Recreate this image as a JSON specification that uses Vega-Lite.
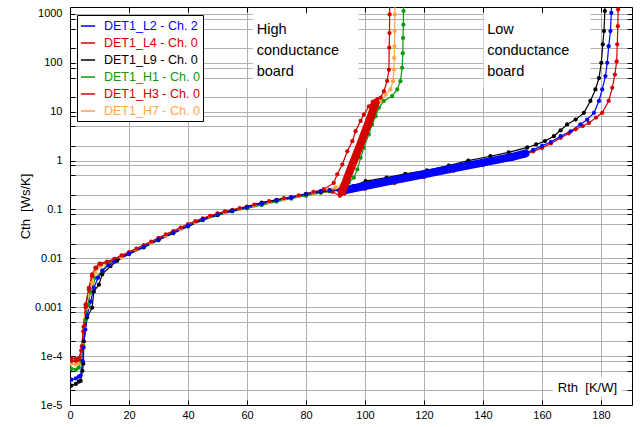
{
"$schema": "https://vega.github.io/schema/vega-lite/v6.json",
"width": 562, "height": 398,
"autosize": "none",
"padding": {"left": 70, "top": 7, "right": 8, "bottom": 22},
"background": "white",
"config": {
  "font": "Liberation Sans",
  "view": {"stroke": "#000000", "strokeWidth": 1},
  "axis": {"labelFont": "Liberation Sans", "labelFontSize": 11, "labelColor": "#000000", "domainColor": "#000000", "tickColor": "#000000", "gridColor": "#b0b0b0", "gridWidth": 1, "labelFlush": false, "labelOverlap": false, "labelBound": false}
},
"datasets": {
"boxes": [
  {"r1": 62.0, "r2": 97.8, "c1": 31, "c2": 1000},
  {"r1": 140.2, "r2": 176.4, "c1": 31, "c2": 1000}
],
"notes": [
  {"r": 63.3, "c": 381, "t": "High\nconductance\nboard"},
  {"r": 141.4, "c": 381, "t": "Low\nconductance\nboard"}
],
"xlab": [
  {"r1": 163.7, "r2": 187.1, "c1": 1.5e-5, "c2": 3.7e-5, "r": 175.4, "c": 1.82e-5, "t": "Rth\u00a0 [K/W]"}
],
"bands": [
  {"s": "DET1_L2 - Ch. 2", "r": 92, "c": 0.240},
  {"s": "DET1_L2 - Ch. 2", "r": 100, "c": 0.302},
  {"s": "DET1_L2 - Ch. 2", "r": 110, "c": 0.398},
  {"s": "DET1_L2 - Ch. 2", "r": 120, "c": 0.525},
  {"s": "DET1_L2 - Ch. 2", "r": 130, "c": 0.692},
  {"s": "DET1_L2 - Ch. 2", "r": 140, "c": 0.912},
  {"s": "DET1_L2 - Ch. 2", "r": 150, "c": 1.20},
  {"s": "DET1_L2 - Ch. 2", "r": 154.4, "c": 1.41},
  {"s": "DET1_H3 - Ch. 0", "r": 92.2, "c": 0.229},
  {"s": "DET1_H3 - Ch. 0", "r": 95, "c": 0.645},
  {"s": "DET1_H3 - Ch. 0", "r": 98, "c": 1.86},
  {"s": "DET1_H3 - Ch. 0", "r": 101, "c": 5.6},
  {"s": "DET1_H3 - Ch. 0", "r": 103.6, "c": 15.1}
],
"curves": [
  {"s": "DET1_H7 - Ch. 0", "r": 0.5, "c": 7.0e-5},
  {"s": "DET1_H7 - Ch. 0", "r": 2.0, "c": 6.8e-5},
  {"s": "DET1_H7 - Ch. 0", "r": 3.0, "c": 7.2e-5},
  {"s": "DET1_H7 - Ch. 0", "r": 3.8, "c": 8.5e-5},
  {"s": "DET1_H7 - Ch. 0", "r": 4.5, "c": 1.7e-4},
  {"s": "DET1_H7 - Ch. 0", "r": 4.9, "c": 3.8e-4},
  {"s": "DET1_H7 - Ch. 0", "r": 5.3, "c": 6.5e-4},
  {"s": "DET1_H7 - Ch. 0", "r": 5.8, "c": 9.8e-4},
  {"s": "DET1_H7 - Ch. 0", "r": 6.7, "c": 1.8e-3},
  {"s": "DET1_H7 - Ch. 0", "r": 7.5, "c": 3.2e-3},
  {"s": "DET1_H7 - Ch. 0", "r": 8.6, "c": 5.1e-3},
  {"s": "DET1_H7 - Ch. 0", "r": 10.3, "c": 6.9e-3},
  {"s": "DET1_H7 - Ch. 0", "r": 12.6, "c": 7.6e-3},
  {"s": "DET1_H7 - Ch. 0", "r": 15, "c": 0.0089},
  {"s": "DET1_H7 - Ch. 0", "r": 17.5, "c": 0.0104},
  {"s": "DET1_H7 - Ch. 0", "r": 20, "c": 0.0126},
  {"s": "DET1_H7 - Ch. 0", "r": 22.5, "c": 0.0148},
  {"s": "DET1_H7 - Ch. 0", "r": 25, "c": 0.0174},
  {"s": "DET1_H7 - Ch. 0", "r": 27.5, "c": 0.0204},
  {"s": "DET1_H7 - Ch. 0", "r": 30, "c": 0.0245},
  {"s": "DET1_H7 - Ch. 0", "r": 32.5, "c": 0.0288},
  {"s": "DET1_H7 - Ch. 0", "r": 35, "c": 0.0339},
  {"s": "DET1_H7 - Ch. 0", "r": 37.5, "c": 0.0398},
  {"s": "DET1_H7 - Ch. 0", "r": 40, "c": 0.0468},
  {"s": "DET1_H7 - Ch. 0", "r": 42.5, "c": 0.0537},
  {"s": "DET1_H7 - Ch. 0", "r": 45, "c": 0.0631},
  {"s": "DET1_H7 - Ch. 0", "r": 47.5, "c": 0.0708},
  {"s": "DET1_H7 - Ch. 0", "r": 50, "c": 0.0794},
  {"s": "DET1_H7 - Ch. 0", "r": 52.5, "c": 0.0871},
  {"s": "DET1_H7 - Ch. 0", "r": 55, "c": 0.0955},
  {"s": "DET1_H7 - Ch. 0", "r": 57.5, "c": 0.102},
  {"s": "DET1_H7 - Ch. 0", "r": 60, "c": 0.112},
  {"s": "DET1_H7 - Ch. 0", "r": 62.5, "c": 0.120},
  {"s": "DET1_H7 - Ch. 0", "r": 65, "c": 0.132},
  {"s": "DET1_H7 - Ch. 0", "r": 67.5, "c": 0.141},
  {"s": "DET1_H7 - Ch. 0", "r": 70, "c": 0.155},
  {"s": "DET1_H7 - Ch. 0", "r": 72.5, "c": 0.162},
  {"s": "DET1_H7 - Ch. 0", "r": 75, "c": 0.178},
  {"s": "DET1_H7 - Ch. 0", "r": 77.5, "c": 0.186},
  {"s": "DET1_H7 - Ch. 0", "r": 80, "c": 0.209},
  {"s": "DET1_H7 - Ch. 0", "r": 82.5, "c": 0.219},
  {"s": "DET1_H7 - Ch. 0", "r": 85, "c": 0.240},
  {"s": "DET1_H7 - Ch. 0", "r": 87.5, "c": 0.257},
  {"s": "DET1_H7 - Ch. 0", "r": 90, "c": 0.28},
  {"s": "DET1_H7 - Ch. 0", "r": 92, "c": 0.316},
  {"s": "DET1_H7 - Ch. 0", "r": 94, "c": 0.50},
  {"s": "DET1_H7 - Ch. 0", "r": 96, "c": 0.89},
  {"s": "DET1_H7 - Ch. 0", "r": 98, "c": 1.9},
  {"s": "DET1_H7 - Ch. 0", "r": 100, "c": 3.8},
  {"s": "DET1_H7 - Ch. 0", "r": 102, "c": 7.2},
  {"s": "DET1_H7 - Ch. 0", "r": 103.8, "c": 12},
  {"s": "DET1_H7 - Ch. 0", "r": 105.5, "c": 16.6},
  {"s": "DET1_H7 - Ch. 0", "r": 107, "c": 22.6},
  {"s": "DET1_H7 - Ch. 0", "r": 108.6, "c": 28.6},
  {"s": "DET1_H7 - Ch. 0", "r": 109.5, "c": 42.3},
  {"s": "DET1_H7 - Ch. 0", "r": 109.8, "c": 73},
  {"s": "DET1_H7 - Ch. 0", "r": 109.9, "c": 126},
  {"s": "DET1_H7 - Ch. 0", "r": 110.0, "c": 219},
  {"s": "DET1_H7 - Ch. 0", "r": 110.05, "c": 447},
  {"s": "DET1_H7 - Ch. 0", "r": 110.1, "c": 977},
  {"s": "DET1_H7 - Ch. 0", "r": 110.15, "c": 2000},

  {"s": "DET1_H1 - Ch. 0", "r": 0.5, "c": 5.5e-5},
  {"s": "DET1_H1 - Ch. 0", "r": 2.0, "c": 5.3e-5},
  {"s": "DET1_H1 - Ch. 0", "r": 3.0, "c": 5.8e-5},
  {"s": "DET1_H1 - Ch. 0", "r": 3.8, "c": 8.0e-5},
  {"s": "DET1_H1 - Ch. 0", "r": 4.5, "c": 1.6e-4},
  {"s": "DET1_H1 - Ch. 0", "r": 5.3, "c": 5.5e-4},
  {"s": "DET1_H1 - Ch. 0", "r": 6.0, "c": 1.1e-3},
  {"s": "DET1_H1 - Ch. 0", "r": 7.0, "c": 2.0e-3},
  {"s": "DET1_H1 - Ch. 0", "r": 8.6, "c": 4.0e-3},
  {"s": "DET1_H1 - Ch. 0", "r": 10.9, "c": 5.6e-3},
  {"s": "DET1_H1 - Ch. 0", "r": 13, "c": 7.8e-3},
  {"s": "DET1_H1 - Ch. 0", "r": 15.4, "c": 0.0098},
  {"s": "DET1_H1 - Ch. 0", "r": 20, "c": 0.0123},
  {"s": "DET1_H1 - Ch. 0", "r": 25, "c": 0.0166},
  {"s": "DET1_H1 - Ch. 0", "r": 30, "c": 0.0234},
  {"s": "DET1_H1 - Ch. 0", "r": 35, "c": 0.0324},
  {"s": "DET1_H1 - Ch. 0", "r": 40, "c": 0.0447},
  {"s": "DET1_H1 - Ch. 0", "r": 45, "c": 0.0603},
  {"s": "DET1_H1 - Ch. 0", "r": 50, "c": 0.0759},
  {"s": "DET1_H1 - Ch. 0", "r": 55, "c": 0.0912},
  {"s": "DET1_H1 - Ch. 0", "r": 60, "c": 0.105},
  {"s": "DET1_H1 - Ch. 0", "r": 65, "c": 0.123},
  {"s": "DET1_H1 - Ch. 0", "r": 70, "c": 0.145},
  {"s": "DET1_H1 - Ch. 0", "r": 75, "c": 0.166},
  {"s": "DET1_H1 - Ch. 0", "r": 80, "c": 0.191},
  {"s": "DET1_H1 - Ch. 0", "r": 85, "c": 0.219},
  {"s": "DET1_H1 - Ch. 0", "r": 88, "c": 0.234},
  {"s": "DET1_H1 - Ch. 0", "r": 91.7, "c": 0.257},
  {"s": "DET1_H1 - Ch. 0", "r": 94.5, "c": 0.355},
  {"s": "DET1_H1 - Ch. 0", "r": 96.2, "c": 0.447},
  {"s": "DET1_H1 - Ch. 0", "r": 97.4, "c": 0.661},
  {"s": "DET1_H1 - Ch. 0", "r": 98.5, "c": 1.14},
  {"s": "DET1_H1 - Ch. 0", "r": 99.6, "c": 1.82},
  {"s": "DET1_H1 - Ch. 0", "r": 101.3, "c": 3.44},
  {"s": "DET1_H1 - Ch. 0", "r": 102.4, "c": 5.5},
  {"s": "DET1_H1 - Ch. 0", "r": 103.6, "c": 8.1},
  {"s": "DET1_H1 - Ch. 0", "r": 104.7, "c": 12.0},
  {"s": "DET1_H1 - Ch. 0", "r": 106.4, "c": 16.6},
  {"s": "DET1_H1 - Ch. 0", "r": 109.2, "c": 20.9},
  {"s": "DET1_H1 - Ch. 0", "r": 110.9, "c": 28.6},
  {"s": "DET1_H1 - Ch. 0", "r": 112.0, "c": 42.3},
  {"s": "DET1_H1 - Ch. 0", "r": 112.6, "c": 79},
  {"s": "DET1_H1 - Ch. 0", "r": 112.8, "c": 158},
  {"s": "DET1_H1 - Ch. 0", "r": 112.9, "c": 324},
  {"s": "DET1_H1 - Ch. 0", "r": 113.0, "c": 603},
  {"s": "DET1_H1 - Ch. 0", "r": 113.05, "c": 1150},
  {"s": "DET1_H1 - Ch. 0", "r": 113.1, "c": 2000},

  {"s": "DET1_H3 - Ch. 0", "r": 0.5, "c": 8.0e-5},
  {"s": "DET1_H3 - Ch. 0", "r": 2.0, "c": 8.0e-5},
  {"s": "DET1_H3 - Ch. 0", "r": 3.0, "c": 8.5e-5},
  {"s": "DET1_H3 - Ch. 0", "r": 3.8, "c": 1.3e-4},
  {"s": "DET1_H3 - Ch. 0", "r": 4.5, "c": 3.2e-4},
  {"s": "DET1_H3 - Ch. 0", "r": 5.3, "c": 1.15e-3},
  {"s": "DET1_H3 - Ch. 0", "r": 6.4, "c": 2.5e-3},
  {"s": "DET1_H3 - Ch. 0", "r": 7.5, "c": 4.7e-3},
  {"s": "DET1_H3 - Ch. 0", "r": 8.6, "c": 6.5e-3},
  {"s": "DET1_H3 - Ch. 0", "r": 10, "c": 7.8e-3},
  {"s": "DET1_H3 - Ch. 0", "r": 12.5, "c": 8.6e-3},
  {"s": "DET1_H3 - Ch. 0", "r": 15, "c": 0.0098},
  {"s": "DET1_H3 - Ch. 0", "r": 17.5, "c": 0.0115},
  {"s": "DET1_H3 - Ch. 0", "r": 22.5, "c": 0.0158},
  {"s": "DET1_H3 - Ch. 0", "r": 27.5, "c": 0.0219},
  {"s": "DET1_H3 - Ch. 0", "r": 32.5, "c": 0.0309},
  {"s": "DET1_H3 - Ch. 0", "r": 37.5, "c": 0.0427},
  {"s": "DET1_H3 - Ch. 0", "r": 42.5, "c": 0.0575},
  {"s": "DET1_H3 - Ch. 0", "r": 47.5, "c": 0.0741},
  {"s": "DET1_H3 - Ch. 0", "r": 52.5, "c": 0.0912},
  {"s": "DET1_H3 - Ch. 0", "r": 57.5, "c": 0.107},
  {"s": "DET1_H3 - Ch. 0", "r": 62.5, "c": 0.126},
  {"s": "DET1_H3 - Ch. 0", "r": 67.5, "c": 0.148},
  {"s": "DET1_H3 - Ch. 0", "r": 72.5, "c": 0.170},
  {"s": "DET1_H3 - Ch. 0", "r": 77.5, "c": 0.195},
  {"s": "DET1_H3 - Ch. 0", "r": 82.5, "c": 0.229},
  {"s": "DET1_H3 - Ch. 0", "r": 86, "c": 0.26},
  {"s": "DET1_H3 - Ch. 0", "r": 89.4, "c": 0.35},
  {"s": "DET1_H3 - Ch. 0", "r": 90.6, "c": 0.525},
  {"s": "DET1_H3 - Ch. 0", "r": 92.3, "c": 0.83},
  {"s": "DET1_H3 - Ch. 0", "r": 94, "c": 1.55},
  {"s": "DET1_H3 - Ch. 0", "r": 95.7, "c": 2.5},
  {"s": "DET1_H3 - Ch. 0", "r": 96.8, "c": 4.0},
  {"s": "DET1_H3 - Ch. 0", "r": 98.5, "c": 6.5},
  {"s": "DET1_H3 - Ch. 0", "r": 99.6, "c": 8.7},
  {"s": "DET1_H3 - Ch. 0", "r": 101.3, "c": 12.9},
  {"s": "DET1_H3 - Ch. 0", "r": 102.6, "c": 16.0},
  {"s": "DET1_H3 - Ch. 0", "r": 104.2, "c": 18.2},
  {"s": "DET1_H3 - Ch. 0", "r": 105.3, "c": 19.5},
  {"s": "DET1_H3 - Ch. 0", "r": 106.4, "c": 26.3},
  {"s": "DET1_H3 - Ch. 0", "r": 107.5, "c": 42.7},
  {"s": "DET1_H3 - Ch. 0", "r": 108.1, "c": 72},
  {"s": "DET1_H3 - Ch. 0", "r": 108.2, "c": 204},
  {"s": "DET1_H3 - Ch. 0", "r": 108.3, "c": 407},
  {"s": "DET1_H3 - Ch. 0", "r": 108.35, "c": 977},
  {"s": "DET1_H3 - Ch. 0", "r": 108.4, "c": 2000},

  {"s": "DET1_L4 - Ch. 0", "r": 0.5, "c": 9.0e-5},
  {"s": "DET1_L4 - Ch. 0", "r": 2.0, "c": 8.8e-5},
  {"s": "DET1_L4 - Ch. 0", "r": 3.2, "c": 9.2e-5},
  {"s": "DET1_L4 - Ch. 0", "r": 4.0, "c": 1.6e-4},
  {"s": "DET1_L4 - Ch. 0", "r": 4.6, "c": 4.0e-4},
  {"s": "DET1_L4 - Ch. 0", "r": 5.3, "c": 1.0e-3},
  {"s": "DET1_L4 - Ch. 0", "r": 6.4, "c": 2.3e-3},
  {"s": "DET1_L4 - Ch. 0", "r": 7.5, "c": 4.3e-3},
  {"s": "DET1_L4 - Ch. 0", "r": 8.8, "c": 6.3e-3},
  {"s": "DET1_L4 - Ch. 0", "r": 10.5, "c": 7.7e-3},
  {"s": "DET1_L4 - Ch. 0", "r": 12.5, "c": 8.3e-3},
  {"s": "DET1_L4 - Ch. 0", "r": 15, "c": 0.0093},
  {"s": "DET1_L4 - Ch. 0", "r": 20, "c": 0.0135},
  {"s": "DET1_L4 - Ch. 0", "r": 25, "c": 0.0186},
  {"s": "DET1_L4 - Ch. 0", "r": 30, "c": 0.0263},
  {"s": "DET1_L4 - Ch. 0", "r": 35, "c": 0.0363},
  {"s": "DET1_L4 - Ch. 0", "r": 40, "c": 0.0501},
  {"s": "DET1_L4 - Ch. 0", "r": 45, "c": 0.0661},
  {"s": "DET1_L4 - Ch. 0", "r": 50, "c": 0.0832},
  {"s": "DET1_L4 - Ch. 0", "r": 55, "c": 0.0977},
  {"s": "DET1_L4 - Ch. 0", "r": 60, "c": 0.115},
  {"s": "DET1_L4 - Ch. 0", "r": 65, "c": 0.135},
  {"s": "DET1_L4 - Ch. 0", "r": 70, "c": 0.158},
  {"s": "DET1_L4 - Ch. 0", "r": 75, "c": 0.180},
  {"s": "DET1_L4 - Ch. 0", "r": 80, "c": 0.209},
  {"s": "DET1_L4 - Ch. 0", "r": 85, "c": 0.234},
  {"s": "DET1_L4 - Ch. 0", "r": 89, "c": 0.23},
  {"s": "DET1_L4 - Ch. 0", "r": 91.5, "c": 0.19},
  {"s": "DET1_L4 - Ch. 0", "r": 93, "c": 0.21},
  {"s": "DET1_L4 - Ch. 0", "r": 100, "c": 0.263},
  {"s": "DET1_L4 - Ch. 0", "r": 110, "c": 0.347},
  {"s": "DET1_L4 - Ch. 0", "r": 120, "c": 0.457},
  {"s": "DET1_L4 - Ch. 0", "r": 130, "c": 0.617},
  {"s": "DET1_L4 - Ch. 0", "r": 140, "c": 0.813},
  {"s": "DET1_L4 - Ch. 0", "r": 150, "c": 1.10},
  {"s": "DET1_L4 - Ch. 0", "r": 154, "c": 1.26},
  {"s": "DET1_L4 - Ch. 0", "r": 157, "c": 1.55},
  {"s": "DET1_L4 - Ch. 0", "r": 160, "c": 1.82},
  {"s": "DET1_L4 - Ch. 0", "r": 163, "c": 2.24},
  {"s": "DET1_L4 - Ch. 0", "r": 166.3, "c": 2.92},
  {"s": "DET1_L4 - Ch. 0", "r": 169, "c": 3.6},
  {"s": "DET1_L4 - Ch. 0", "r": 171.4, "c": 4.37},
  {"s": "DET1_L4 - Ch. 0", "r": 173.8, "c": 5.1},
  {"s": "DET1_L4 - Ch. 0", "r": 175.9, "c": 5.9},
  {"s": "DET1_L4 - Ch. 0", "r": 178.3, "c": 7.6},
  {"s": "DET1_L4 - Ch. 0", "r": 180.4, "c": 9.5},
  {"s": "DET1_L4 - Ch. 0", "r": 182.6, "c": 16.6},
  {"s": "DET1_L4 - Ch. 0", "r": 183.8, "c": 30.9},
  {"s": "DET1_L4 - Ch. 0", "r": 184.7, "c": 57.5},
  {"s": "DET1_L4 - Ch. 0", "r": 185.3, "c": 107},
  {"s": "DET1_L4 - Ch. 0", "r": 185.5, "c": 240},
  {"s": "DET1_L4 - Ch. 0", "r": 185.7, "c": 562},
  {"s": "DET1_L4 - Ch. 0", "r": 185.8, "c": 1230},
  {"s": "DET1_L4 - Ch. 0", "r": 185.85, "c": 2000},

  {"s": "DET1_L9 - Ch. 0", "r": 0.5, "c": 2.5e-5},
  {"s": "DET1_L9 - Ch. 0", "r": 2.0, "c": 2.7e-5},
  {"s": "DET1_L9 - Ch. 0", "r": 3.0, "c": 3.0e-5},
  {"s": "DET1_L9 - Ch. 0", "r": 3.6, "c": 3.1e-5},
  {"s": "DET1_L9 - Ch. 0", "r": 4.2, "c": 5.0e-5},
  {"s": "DET1_L9 - Ch. 0", "r": 4.5, "c": 7.0e-5},
  {"s": "DET1_L9 - Ch. 0", "r": 4.7, "c": 2.0e-4},
  {"s": "DET1_L9 - Ch. 0", "r": 5.8, "c": 6.2e-4},
  {"s": "DET1_L9 - Ch. 0", "r": 7.5, "c": 9.8e-4},
  {"s": "DET1_L9 - Ch. 0", "r": 8.1, "c": 2.1e-3},
  {"s": "DET1_L9 - Ch. 0", "r": 9.8, "c": 2.9e-3},
  {"s": "DET1_L9 - Ch. 0", "r": 10.9, "c": 4.7e-3},
  {"s": "DET1_L9 - Ch. 0", "r": 13.7, "c": 6.9e-3},
  {"s": "DET1_L9 - Ch. 0", "r": 16, "c": 0.0089},
  {"s": "DET1_L9 - Ch. 0", "r": 20, "c": 0.0123},
  {"s": "DET1_L9 - Ch. 0", "r": 25, "c": 0.0170},
  {"s": "DET1_L9 - Ch. 0", "r": 30, "c": 0.0240},
  {"s": "DET1_L9 - Ch. 0", "r": 35, "c": 0.0331},
  {"s": "DET1_L9 - Ch. 0", "r": 40, "c": 0.0457},
  {"s": "DET1_L9 - Ch. 0", "r": 45, "c": 0.0617},
  {"s": "DET1_L9 - Ch. 0", "r": 50, "c": 0.0776},
  {"s": "DET1_L9 - Ch. 0", "r": 55, "c": 0.0933},
  {"s": "DET1_L9 - Ch. 0", "r": 60, "c": 0.112},
  {"s": "DET1_L9 - Ch. 0", "r": 65, "c": 0.138},
  {"s": "DET1_L9 - Ch. 0", "r": 70, "c": 0.155},
  {"s": "DET1_L9 - Ch. 0", "r": 75, "c": 0.176},
  {"s": "DET1_L9 - Ch. 0", "r": 80, "c": 0.204},
  {"s": "DET1_L9 - Ch. 0", "r": 85, "c": 0.229},
  {"s": "DET1_L9 - Ch. 0", "r": 88, "c": 0.245},
  {"s": "DET1_L9 - Ch. 0", "r": 92, "c": 0.263},
  {"s": "DET1_L9 - Ch. 0", "r": 96, "c": 0.302},
  {"s": "DET1_L9 - Ch. 0", "r": 100.2, "c": 0.380},
  {"s": "DET1_L9 - Ch. 0", "r": 107.3, "c": 0.447},
  {"s": "DET1_L9 - Ch. 0", "r": 113.7, "c": 0.537},
  {"s": "DET1_L9 - Ch. 0", "r": 121, "c": 0.631},
  {"s": "DET1_L9 - Ch. 0", "r": 128.4, "c": 0.794},
  {"s": "DET1_L9 - Ch. 0", "r": 135, "c": 1.0},
  {"s": "DET1_L9 - Ch. 0", "r": 142.5, "c": 1.23},
  {"s": "DET1_L9 - Ch. 0", "r": 148.7, "c": 1.48},
  {"s": "DET1_L9 - Ch. 0", "r": 155, "c": 1.86},
  {"s": "DET1_L9 - Ch. 0", "r": 158, "c": 2.14},
  {"s": "DET1_L9 - Ch. 0", "r": 161, "c": 2.51},
  {"s": "DET1_L9 - Ch. 0", "r": 164, "c": 3.16},
  {"s": "DET1_L9 - Ch. 0", "r": 166.3, "c": 4.17},
  {"s": "DET1_L9 - Ch. 0", "r": 168.5, "c": 5.5},
  {"s": "DET1_L9 - Ch. 0", "r": 171.4, "c": 6.9},
  {"s": "DET1_L9 - Ch. 0", "r": 174.2, "c": 9.5},
  {"s": "DET1_L9 - Ch. 0", "r": 176.4, "c": 16.6},
  {"s": "DET1_L9 - Ch. 0", "r": 178.1, "c": 28.6},
  {"s": "DET1_L9 - Ch. 0", "r": 179.3, "c": 49},
  {"s": "DET1_L9 - Ch. 0", "r": 180.1, "c": 100},
  {"s": "DET1_L9 - Ch. 0", "r": 180.6, "c": 240},
  {"s": "DET1_L9 - Ch. 0", "r": 181.0, "c": 447},
  {"s": "DET1_L9 - Ch. 0", "r": 181.3, "c": 1150},
  {"s": "DET1_L9 - Ch. 0", "r": 181.4, "c": 2000},

  {"s": "DET1_L2 - Ch. 2", "r": 0.5, "c": 3.3e-5},
  {"s": "DET1_L2 - Ch. 2", "r": 2.0, "c": 3.5e-5},
  {"s": "DET1_L2 - Ch. 2", "r": 3.0, "c": 3.8e-5},
  {"s": "DET1_L2 - Ch. 2", "r": 3.6, "c": 4.0e-5},
  {"s": "DET1_L2 - Ch. 2", "r": 4.3, "c": 8.0e-5},
  {"s": "DET1_L2 - Ch. 2", "r": 4.6, "c": 1.5e-4},
  {"s": "DET1_L2 - Ch. 2", "r": 5.2, "c": 3.5e-4},
  {"s": "DET1_L2 - Ch. 2", "r": 5.8, "c": 6.8e-4},
  {"s": "DET1_L2 - Ch. 2", "r": 7.0, "c": 1.3e-3},
  {"s": "DET1_L2 - Ch. 2", "r": 8.1, "c": 2.5e-3},
  {"s": "DET1_L2 - Ch. 2", "r": 9.5, "c": 4.0e-3},
  {"s": "DET1_L2 - Ch. 2", "r": 11, "c": 5.6e-3},
  {"s": "DET1_L2 - Ch. 2", "r": 13, "c": 7.2e-3},
  {"s": "DET1_L2 - Ch. 2", "r": 15, "c": 0.0085},
  {"s": "DET1_L2 - Ch. 2", "r": 20, "c": 0.0125},
  {"s": "DET1_L2 - Ch. 2", "r": 25, "c": 0.0172},
  {"s": "DET1_L2 - Ch. 2", "r": 30, "c": 0.0243},
  {"s": "DET1_L2 - Ch. 2", "r": 35, "c": 0.0335},
  {"s": "DET1_L2 - Ch. 2", "r": 40, "c": 0.0463},
  {"s": "DET1_L2 - Ch. 2", "r": 45, "c": 0.0625},
  {"s": "DET1_L2 - Ch. 2", "r": 50, "c": 0.0785},
  {"s": "DET1_L2 - Ch. 2", "r": 55, "c": 0.0945},
  {"s": "DET1_L2 - Ch. 2", "r": 60, "c": 0.111},
  {"s": "DET1_L2 - Ch. 2", "r": 65, "c": 0.131},
  {"s": "DET1_L2 - Ch. 2", "r": 70, "c": 0.153},
  {"s": "DET1_L2 - Ch. 2", "r": 75, "c": 0.176},
  {"s": "DET1_L2 - Ch. 2", "r": 80, "c": 0.207},
  {"s": "DET1_L2 - Ch. 2", "r": 85, "c": 0.238},
  {"s": "DET1_L2 - Ch. 2", "r": 88, "c": 0.245},
  {"s": "DET1_L2 - Ch. 2", "r": 92, "c": 0.240},
  {"s": "DET1_L2 - Ch. 2", "r": 100, "c": 0.302},
  {"s": "DET1_L2 - Ch. 2", "r": 110, "c": 0.398},
  {"s": "DET1_L2 - Ch. 2", "r": 120, "c": 0.525},
  {"s": "DET1_L2 - Ch. 2", "r": 130, "c": 0.692},
  {"s": "DET1_L2 - Ch. 2", "r": 140, "c": 0.912},
  {"s": "DET1_L2 - Ch. 2", "r": 150, "c": 1.20},
  {"s": "DET1_L2 - Ch. 2", "r": 154.4, "c": 1.41},
  {"s": "DET1_L2 - Ch. 2", "r": 157, "c": 1.66},
  {"s": "DET1_L2 - Ch. 2", "r": 160, "c": 2.0},
  {"s": "DET1_L2 - Ch. 2", "r": 163, "c": 2.4},
  {"s": "DET1_L2 - Ch. 2", "r": 166.3, "c": 3.16},
  {"s": "DET1_L2 - Ch. 2", "r": 169.7, "c": 3.98},
  {"s": "DET1_L2 - Ch. 2", "r": 173, "c": 5.5},
  {"s": "DET1_L2 - Ch. 2", "r": 175.3, "c": 6.9},
  {"s": "DET1_L2 - Ch. 2", "r": 177.6, "c": 9.5},
  {"s": "DET1_L2 - Ch. 2", "r": 179.3, "c": 16.6},
  {"s": "DET1_L2 - Ch. 2", "r": 180.4, "c": 28.6},
  {"s": "DET1_L2 - Ch. 2", "r": 181.5, "c": 53.7},
  {"s": "DET1_L2 - Ch. 2", "r": 182.1, "c": 100},
  {"s": "DET1_L2 - Ch. 2", "r": 182.6, "c": 219},
  {"s": "DET1_L2 - Ch. 2", "r": 183.2, "c": 447},
  {"s": "DET1_L2 - Ch. 2", "r": 183.5, "c": 1050},
  {"s": "DET1_L2 - Ch. 2", "r": 183.6, "c": 2000}
]
},
"resolve": {"axis": {"x": "independent", "y": "independent"}},
"layer": [
  {
    "data": {"name": "boxes"},
    "mark": {"type": "rect", "fill": "white"},
    "encoding": {
      "x": {"field": "r1", "type": "quantitative", "scale": {"domain": [0, 190.5], "nice": false, "zero": false}, "axis": null},
      "x2": {"field": "r2"},
      "y": {"field": "c1", "type": "quantitative", "scale": {"type": "log", "domain": [1e-5, 1390], "nice": false}, "axis": null},
      "y2": {"field": "c2"}
    }
  },
  {
    "data": {"name": "notes"},
    "mark": {"type": "text", "align": "left", "baseline": "alphabetic", "fontSize": 14.5, "lineBreak": "\n", "lineHeight": 21, "color": "#000000", "font": "Liberation Sans"},
    "encoding": {
      "x": {"field": "r", "type": "quantitative", "scale": {"domain": [0, 190.5], "nice": false, "zero": false}, "axis": null},
      "y": {"field": "c", "type": "quantitative", "scale": {"type": "log", "domain": [1e-5, 1390], "nice": false}, "axis": null},
      "text": {"field": "t"}
    }
  },
  {
    "data": {"name": "curves"},
    "mark": {"type": "line", "strokeWidth": 1.2, "clip": true},
    "encoding": {
      "x": {"field": "r", "type": "quantitative", "scale": {"domain": [0, 190.5], "nice": false, "zero": false},
        "axis": {"values": [0, 20, 40, 60, 80, 100, 120, 140, 160, 180], "title": null, "grid": true, "ticks": true, "tickSize": -5, "labelPadding": 9, "format": "d"}},
      "y": {"field": "c", "type": "quantitative", "scale": {"type": "log", "domain": [1e-5, 1390], "nice": false},
        "axis": {"values": [1e-5, 2e-5, 5e-5, 8e-5, 1e-4, 2e-4, 5e-4, 8e-4, 0.001, 0.002, 0.005, 0.008, 0.01, 0.02, 0.05, 0.08, 0.1, 0.2, 0.5, 0.8, 1, 2, 5, 8, 10, 20, 50, 80, 100, 200, 500, 800, 1000],
          "labelExpr": "abs(log(datum.value)/LN10 - round(log(datum.value)/LN10)) < 0.01 ? (datum.value < 0.0002 ? (datum.value < 0.00002 ? '1e-5' : '1e-4') : format(datum.value, '~g')) : ''",
          "title": "Cth\u00a0 [Ws/K]", "titleFontSize": 13, "titleFontWeight": "normal", "titleColor": "#000000", "titleFont": "Liberation Sans", "titlePadding": 2,
          "grid": true, "ticks": true, "tickSize": -5, "labelPadding": 13}},
      "color": {"field": "s", "type": "nominal",
        "scale": {"domain": ["DET1_L2 - Ch. 2", "DET1_L4 - Ch. 0", "DET1_L9 - Ch. 0", "DET1_H1 - Ch. 0", "DET1_H3 - Ch. 0", "DET1_H7 - Ch. 0"],
                  "range": ["#0000ff", "#d40000", "#000000", "#0a9a0a", "#d40000", "#ffa64d"]},
        "legend": {"orient": "none", "legendX": 7, "legendY": 8, "title": null, "fillColor": "white", "strokeColor": "#000000", "padding": 3,
          "symbolType": "stroke", "symbolSize": 200, "symbolStrokeWidth": 1.5, "labelFontSize": 12.5, "labelFont": "Liberation Sans",
          "rowPadding": 2, "labelOffset": 8, "labelLimit": 300,
          "encode": {"labels": {"update": {"fill": {"scale": "color", "field": "value"}}}}}}
    }
  },
  {
    "data": {"name": "curves"},
    "mark": {"type": "point", "filled": true, "size": 18, "opacity": 1, "clip": true},
    "encoding": {
      "x": {"field": "r", "type": "quantitative", "scale": {"domain": [0, 190.5], "nice": false, "zero": false},
        "axis": {"orient": "top", "values": [20, 40, 60, 80, 100, 120, 140, 160, 180], "labels": false, "grid": false, "domain": false, "ticks": true, "tickSize": -5, "title": null}},
      "y": {"field": "c", "type": "quantitative", "scale": {"type": "log", "domain": [1e-5, 1390], "nice": false},
        "axis": {"orient": "right", "values": [2e-5, 5e-5, 8e-5, 1e-4, 2e-4, 5e-4, 8e-4, 0.001, 0.002, 0.005, 0.008, 0.01, 0.02, 0.05, 0.08, 0.1, 0.2, 0.5, 0.8, 1, 2, 5, 8, 10, 20, 50, 80, 100, 200, 500, 800, 1000], "labels": false, "grid": false, "domain": false, "ticks": true, "tickSize": -5, "title": null}},
      "color": {"field": "s", "type": "nominal",
        "scale": {"domain": ["DET1_L2 - Ch. 2", "DET1_L4 - Ch. 0", "DET1_L9 - Ch. 0", "DET1_H1 - Ch. 0", "DET1_H3 - Ch. 0", "DET1_H7 - Ch. 0"],
                  "range": ["#0000ff", "#d40000", "#000000", "#0a9a0a", "#d40000", "#ffa64d"]},
        "legend": {"orient": "none", "legendX": 7, "legendY": 8, "title": null, "fillColor": "white", "strokeColor": "#000000", "padding": 3,
          "symbolType": "stroke", "symbolSize": 200, "symbolStrokeWidth": 1.5, "labelFontSize": 12.5, "labelFont": "Liberation Sans",
          "rowPadding": 2, "labelOffset": 8, "labelLimit": 300,
          "encode": {"labels": {"update": {"fill": {"scale": "color", "field": "value"}}}}}}
    }
  },
  {
    "data": {"name": "bands"},
    "mark": {"type": "line", "strokeWidth": 8, "opacity": 1, "strokeCap": "round", "clip": true},
    "encoding": {
      "x": {"field": "r", "type": "quantitative", "scale": {"domain": [0, 190.5], "nice": false, "zero": false}, "axis": null},
      "y": {"field": "c", "type": "quantitative", "scale": {"type": "log", "domain": [1e-5, 1390], "nice": false}, "axis": null},
      "color": {"field": "s", "type": "nominal",
        "scale": {"domain": ["DET1_L2 - Ch. 2", "DET1_L4 - Ch. 0", "DET1_L9 - Ch. 0", "DET1_H1 - Ch. 0", "DET1_H3 - Ch. 0", "DET1_H7 - Ch. 0"],
                  "range": ["#0000ff", "#d40000", "#000000", "#0a9a0a", "#d40000", "#ffa64d"]},
        "legend": {"orient": "none", "legendX": 7, "legendY": 8, "title": null, "fillColor": "white", "strokeColor": "#000000", "padding": 3,
          "symbolType": "stroke", "symbolSize": 200, "symbolStrokeWidth": 1.5, "labelFontSize": 12.5, "labelFont": "Liberation Sans",
          "rowPadding": 2, "labelOffset": 8, "labelLimit": 300,
          "encode": {"labels": {"update": {"fill": {"scale": "color", "field": "value"}}}}}}
    }
  },
  {
    "data": {"name": "xlab"},
    "mark": {"type": "rect", "fill": "white"},
    "encoding": {
      "x": {"field": "r1", "type": "quantitative", "scale": {"domain": [0, 190.5], "nice": false, "zero": false}, "axis": null},
      "x2": {"field": "r2"},
      "y": {"field": "c1", "type": "quantitative", "scale": {"type": "log", "domain": [1e-5, 1390], "nice": false}, "axis": null},
      "y2": {"field": "c2"}
    }
  },
  {
    "data": {"name": "xlab"},
    "mark": {"type": "text", "align": "center", "baseline": "alphabetic", "fontSize": 13, "color": "#000000", "font": "Liberation Sans"},
    "encoding": {
      "x": {"field": "r", "type": "quantitative", "scale": {"domain": [0, 190.5], "nice": false, "zero": false}, "axis": null},
      "y": {"field": "c", "type": "quantitative", "scale": {"type": "log", "domain": [1e-5, 1390], "nice": false}, "axis": null},
      "text": {"field": "t"}
    }
  }
]
}
